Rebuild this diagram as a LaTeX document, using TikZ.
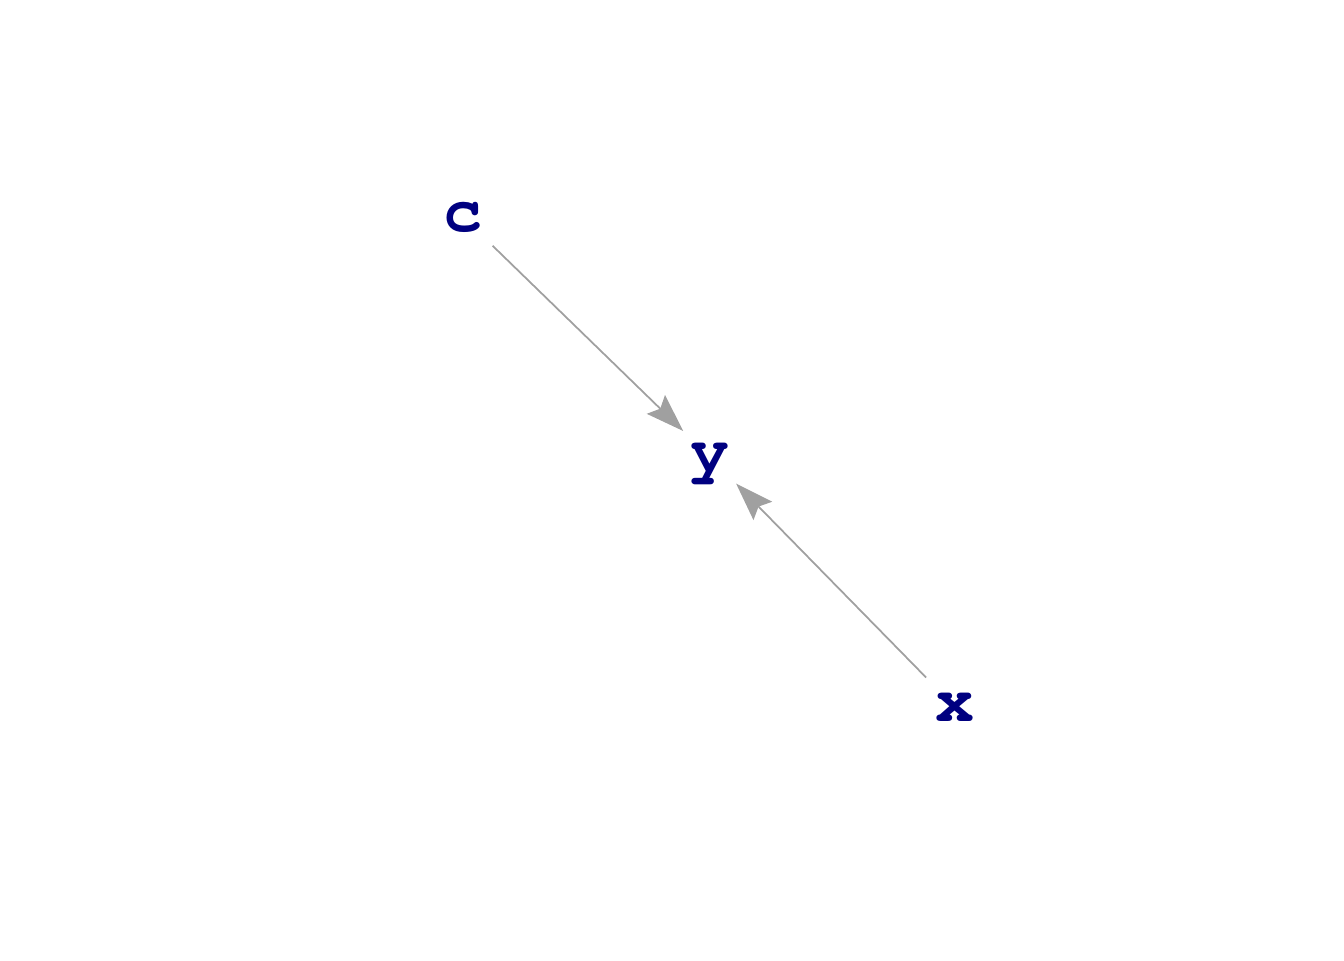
\documentclass[tikz,border=0pt]{standalone}
\usepackage[T1,TU]{fontenc}
\usetikzlibrary{arrows.meta}
\definecolor{navy}{RGB}{0,0,128}
\definecolor{edgegray}{RGB}{160,160,160}
\newcommand{\courbold}{\fontencoding{T1}\fontfamily{pcr}\fontseries{b}\selectfont}
\tikzset{var/.style={circle,inner sep=0pt,minimum size=74*0.02cm,text=navy,
  font=\courbold\fontsize{37}{40}\selectfont,text height=29*0.02cm,text depth=0pt},
  edge/.style={draw=edgegray,line width=1pt,shorten <=4*0.02cm,
  -{Stealth[length=38*0.02cm,width=26*0.02cm,inset=6*0.02cm]}}}

\begin{document}
\begin{tikzpicture}[x=0.02cm,y=-0.02cm]
\useasboundingbox (0,0) rectangle (1344,960);
\node[var] (c) at (463,217) {c};
\node[var] (y) at (710,457) {y};
\node[var] (x) at (955,707) {x};
\draw[edge] (c) -- (y);
\draw[edge] (x) -- (y);
\end{tikzpicture}
\end{document}
